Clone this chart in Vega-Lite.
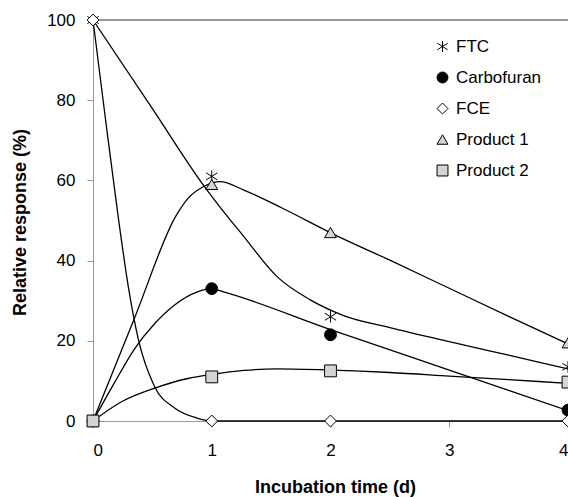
{
  "$schema": "https://vega.github.io/schema/vega-lite/v6.json",
  "autosize": "none",
  "width": 475,
  "height": 401,
  "padding": {"left": 93, "top": 20, "right": 0, "bottom": 76},
  "background": "white",
  "config": {
    "view": {"stroke": null},
    "font": "Liberation Sans",
    "axis": {
      "labelFont": "Liberation Sans",
      "labelFontSize": 17,
      "labelColor": "black",
      "titleFont": "Liberation Sans",
      "titleFontSize": 18,
      "titleFontWeight": "bold",
      "titleColor": "black",
      "domainColor": "#999999",
      "tickColor": "#999999",
      "tickSize": 6,
      "grid": false
    }
  },
  "datasets": {
    "points": [
      {"series": "FTC", "t": 0, "r": 100},
      {"series": "FTC", "t": 1, "r": 61},
      {"series": "FTC", "t": 2, "r": 26},
      {"series": "FTC", "t": 4, "r": 13.5},
      {"series": "Carbofuran", "t": 0, "r": 0},
      {"series": "Carbofuran", "t": 1, "r": 33},
      {"series": "Carbofuran", "t": 2, "r": 21.5},
      {"series": "Carbofuran", "t": 4, "r": 2.7},
      {"series": "FCE", "t": 0, "r": 100},
      {"series": "FCE", "t": 1, "r": 0},
      {"series": "FCE", "t": 2, "r": 0},
      {"series": "FCE", "t": 4, "r": 0},
      {"series": "Product 1", "t": 0, "r": 0},
      {"series": "Product 1", "t": 1, "r": 59},
      {"series": "Product 1", "t": 2, "r": 47},
      {"series": "Product 1", "t": 4, "r": 19.5},
      {"series": "Product 2", "t": 0, "r": 0},
      {"series": "Product 2", "t": 1, "r": 11},
      {"series": "Product 2", "t": 2, "r": 12.5},
      {"series": "Product 2", "t": 4, "r": 9.7}
    ],
    "curves": [
      {"series": "FTC", "t": 0, "r": 100},
      {"series": "FTC", "t": 0.5, "r": 77.9},
      {"series": "FTC", "t": 0.94, "r": 58.4},
      {"series": "FTC", "t": 1.05, "r": 54.1},
      {"series": "FTC", "t": 1.27, "r": 46},
      {"series": "FTC", "t": 1.55, "r": 36},
      {"series": "FTC", "t": 1.83, "r": 30.2},
      {"series": "FTC", "t": 2.11, "r": 26.3},
      {"series": "FTC", "t": 2.5, "r": 23.3},
      {"series": "FTC", "t": 3, "r": 19.8},
      {"series": "FTC", "t": 3.5, "r": 16.4},
      {"series": "FTC", "t": 4, "r": 13},
      {"series": "Carbofuran", "t": 0, "r": 0},
      {"series": "Carbofuran", "t": 0.18, "r": 9.5},
      {"series": "Carbofuran", "t": 0.35, "r": 18},
      {"series": "Carbofuran", "t": 0.52, "r": 24.3},
      {"series": "Carbofuran", "t": 0.69, "r": 29},
      {"series": "Carbofuran", "t": 0.88, "r": 32.2},
      {"series": "Carbofuran", "t": 1.0, "r": 33},
      {"series": "Carbofuran", "t": 1.1, "r": 32.2},
      {"series": "Carbofuran", "t": 2, "r": 22.8},
      {"series": "Carbofuran", "t": 3, "r": 12.7},
      {"series": "Carbofuran", "t": 4, "r": 2.6},
      {"series": "FCE", "t": 0, "r": 100},
      {"series": "FCE", "t": 0.1, "r": 76.5},
      {"series": "FCE", "t": 0.21, "r": 51.4},
      {"series": "FCE", "t": 0.3, "r": 33},
      {"series": "FCE", "t": 0.38, "r": 20.6},
      {"series": "FCE", "t": 0.52, "r": 8.5},
      {"series": "FCE", "t": 0.69, "r": 3.2},
      {"series": "FCE", "t": 0.88, "r": 0.7},
      {"series": "FCE", "t": 1, "r": 0},
      {"series": "FCE", "t": 2, "r": 0},
      {"series": "FCE", "t": 4, "r": 0},
      {"series": "Product 1", "t": 0, "r": 0},
      {"series": "Product 1", "t": 0.35, "r": 25.7},
      {"series": "Product 1", "t": 0.7, "r": 51.2},
      {"series": "Product 1", "t": 0.8, "r": 55.5},
      {"series": "Product 1", "t": 0.94, "r": 58.6},
      {"series": "Product 1", "t": 1.07, "r": 59.7},
      {"series": "Product 1", "t": 1.27, "r": 57.6},
      {"series": "Product 1", "t": 1.6, "r": 53},
      {"series": "Product 1", "t": 2.01, "r": 46.8},
      {"series": "Product 1", "t": 2.5, "r": 40.1},
      {"series": "Product 1", "t": 3, "r": 33.1},
      {"series": "Product 1", "t": 3.5, "r": 26.1},
      {"series": "Product 1", "t": 4, "r": 19.2},
      {"series": "Product 2", "t": 0, "r": 0},
      {"series": "Product 2", "t": 0.24, "r": 4.8},
      {"series": "Product 2", "t": 0.52, "r": 8.2},
      {"series": "Product 2", "t": 0.8, "r": 10.6},
      {"series": "Product 2", "t": 1, "r": 11.6},
      {"series": "Product 2", "t": 1.27, "r": 12.6},
      {"series": "Product 2", "t": 1.55, "r": 13},
      {"series": "Product 2", "t": 2.01, "r": 12.7},
      {"series": "Product 2", "t": 2.5, "r": 12.1},
      {"series": "Product 2", "t": 3, "r": 11.2},
      {"series": "Product 2", "t": 3.5, "r": 10.3},
      {"series": "Product 2", "t": 4, "r": 9.4}
    ]
  },
  "encoding": {
    "x": {
      "field": "t",
      "type": "quantitative",
      "scale": {"domain": [0, 4], "nice": false, "zero": false},
      "axis": {
        "values": [0, 1, 2, 3, 4],
        "labelPadding": 15,
        "title": "Incubation time (d)",
        "titleX": 242,
        "titleY": 66,
        "titleBaseline": "middle"
      }
    },
    "y": {
      "field": "r",
      "type": "quantitative",
      "scale": {"domain": [0, 100], "nice": false},
      "axis": {
        "values": [0, 20, 40, 60, 80, 100],
        "labelPadding": 12,
        "title": "Relative response (%)",
        "titleX": -73,
        "titleY": 202,
        "titleBaseline": "middle",
        "titleAngle": -90
      }
    }
  },
  "layer": [
    {
      "data": {"name": "points"},
      "mark": {"type": "rule", "color": "#999999", "strokeWidth": 1},
      "encoding": {"y": {"datum": 100}, "x": null}
    },
    {
      "data": {"name": "curves"},
      "mark": {"type": "line", "interpolate": "monotone", "color": "black", "strokeWidth": 1.3},
      "encoding": {"detail": {"field": "series"}}
    },
    {
      "data": {"name": "points"},
      "mark": {"type": "point", "filled": true, "stroke": "black", "strokeWidth": 1, "opacity": 1, "size": 140},
      "encoding": {
        "shape": {
          "field": "series",
          "type": "nominal",
          "scale": {
            "domain": ["FTC", "Carbofuran", "FCE", "Product 1", "Product 2"],
            "range": ["M0,-1L0,1M-0.95,-0.6L0.95,0.6M-0.95,0.6L0.95,-0.6", "circle", "diamond", "triangle-up", "square"]
          },
          "legend": {
            "title": null,
            "orient": "none",
            "legendX": 341,
            "legendY": 18,
            "padding": 0,
            "labelFont": "Liberation Sans",
            "labelFontSize": 17,
            "labelColor": "black",
            "labelOffset": 5,
            "rowPadding": 13,
            "symbolSize": 120,
            "symbolStrokeWidth": 1,
            "symbolOpacity": 1,
            "encode": {"symbols": {"update": {"stroke": {"value": "black"}, "strokeWidth": {"value": 1}}}}
          }
        },
        "fill": {
          "field": "series",
          "type": "nominal",
          "scale": {
            "domain": ["FTC", "Carbofuran", "FCE", "Product 1", "Product 2"],
            "range": ["transparent", "black", "white", "#d4d4d4", "#d4d4d4"]
          },
          "legend": {
            "title": null,
            "orient": "none",
            "legendX": 341,
            "legendY": 18,
            "padding": 0,
            "labelFont": "Liberation Sans",
            "labelFontSize": 17,
            "labelColor": "black",
            "labelOffset": 5,
            "rowPadding": 13,
            "symbolSize": 120,
            "symbolStrokeWidth": 1,
            "symbolOpacity": 1,
            "encode": {"symbols": {"update": {"stroke": {"value": "black"}, "strokeWidth": {"value": 1}}}}
          }
        }
      }
    }
  ]
}
